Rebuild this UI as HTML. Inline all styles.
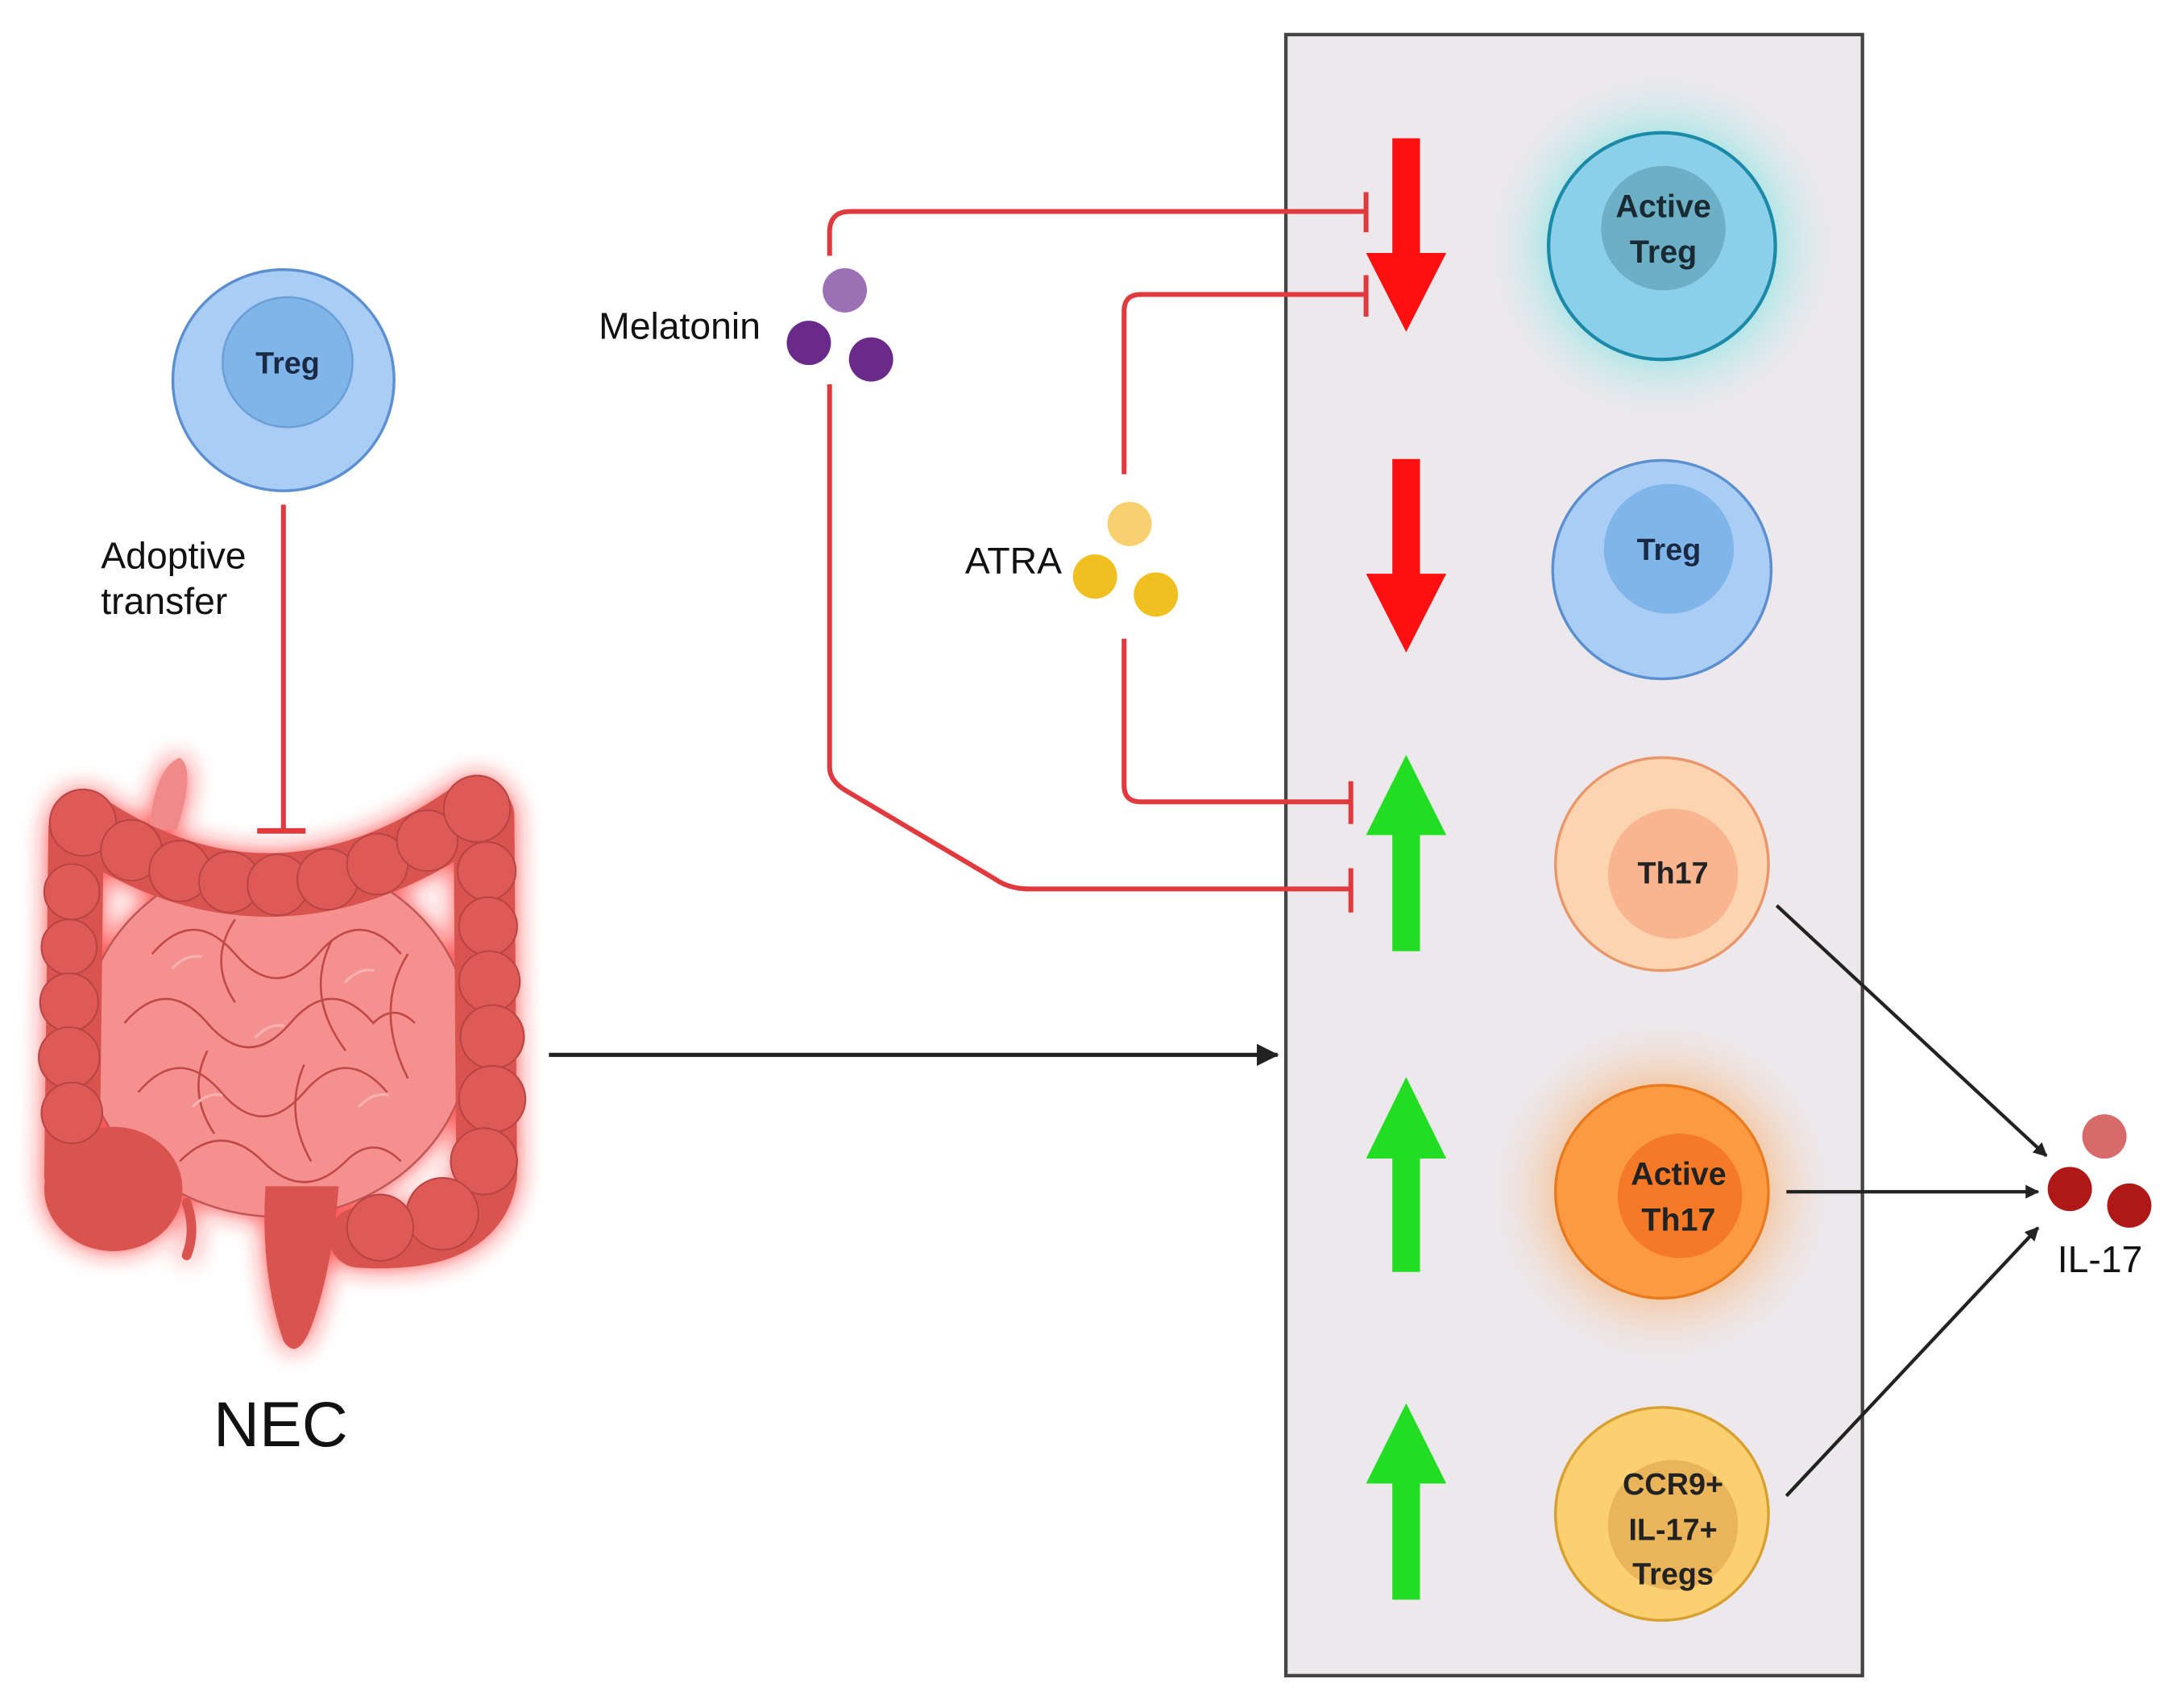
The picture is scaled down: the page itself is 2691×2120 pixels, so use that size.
<!DOCTYPE html>
<html><head><meta charset="utf-8">
<style>
html,body{margin:0;padding:0;background:#fff;}
svg{display:block;}
text{font-family:"Liberation Sans",sans-serif;}
</style></head>
<body>
<svg width="2691" height="2120" viewBox="0 0 1568 1235.4" preserveAspectRatio="none" xmlns="http://www.w3.org/2000/svg">
<defs>
  <filter id="glowR" x="-30%" y="-30%" width="160%" height="160%">
    <feGaussianBlur in="SourceAlpha" stdDeviation="9" result="b"/>
    <feFlood flood-color="#ff2020" flood-opacity="0.8"/>
    <feComposite in2="b" operator="in" result="g"/>
    <feMerge><feMergeNode in="g"/><feMergeNode in="SourceGraphic"/></feMerge>
  </filter>
  <radialGradient id="gC"><stop offset="55%" stop-color="#6fe0e0" stop-opacity="0.7"/><stop offset="100%" stop-color="#c8f0f0" stop-opacity="0"/></radialGradient>
  <radialGradient id="gO"><stop offset="55%" stop-color="#f7b070" stop-opacity="0.7"/><stop offset="100%" stop-color="#f8d8c0" stop-opacity="0"/></radialGradient>
  <marker id="ah" markerWidth="10" markerHeight="10" refX="9" refY="5" orient="auto" markerUnits="userSpaceOnUse"><path d="M0,0 L10,5 L0,10 Z" fill="#222"/></marker>
  <marker id="ah2" markerWidth="16" markerHeight="16" refX="15" refY="8" orient="auto" markerUnits="userSpaceOnUse"><path d="M0,0 L16,8 L0,16 Z" fill="#222"/></marker>
</defs>

<!-- box -->
<rect x="930" y="25" width="417" height="1187" fill="#ece8ec" stroke="#444" stroke-width="2.5"/>

<!-- left Treg -->
<circle cx="205" cy="275" r="80" fill="#a9cdf5" stroke="#5b8fd0" stroke-width="2"/>
<circle cx="208" cy="262" r="47" fill="#80b5ea" stroke="#6a9fd8" stroke-width="1.5"/>
<text x="208" y="270" font-size="22" font-weight="bold" text-anchor="middle" fill="#1a2a44">Treg</text>

<text x="73" y="411" font-size="27" fill="#111">Adoptive</text>
<text x="73" y="444" font-size="27" fill="#111">transfer</text>

<!-- intestine -->
<g filter="url(#glowR)">
  <path d="M108,600 Q112,555 130,548 Q142,556 128,600 Z" fill="#f08a8a"/>
  <ellipse cx="200" cy="750" rx="140" ry="130" fill="#f4908e" stroke="#c05858" stroke-width="1.5"/>
  <path d="M60,595 Q200,690 345,585" fill="none" stroke="#d9534f" stroke-width="46" stroke-linecap="round"/>
  <path d="M55,600 L52,850" fill="none" stroke="#d9534f" stroke-width="40" stroke-linecap="round"/>
  <path d="M350,590 L352,850 Q345,900 260,895" fill="none" stroke="#d9534f" stroke-width="44" stroke-linecap="round"/>
  <ellipse cx="82" cy="860" rx="50" ry="45" fill="#d9534f"/>
  <path d="M192,858 Q188,920 205,970 Q215,985 225,960 Q240,920 245,858 Z" fill="#d9534f"/>
  <path d="M135,870 Q142,890 135,908" fill="none" stroke="#d9534f" stroke-width="7" stroke-linecap="round"/>
</g>
<g fill="#de5a56" stroke="#b84444" stroke-width="1.2">
  <circle cx="60" cy="595" r="24"/><circle cx="95" cy="615" r="22"/><circle cx="130" cy="630" r="22"/>
  <circle cx="166" cy="638" r="22"/><circle cx="201" cy="640" r="22"/><circle cx="237" cy="636" r="22"/>
  <circle cx="273" cy="625" r="22"/><circle cx="309" cy="608" r="22"/><circle cx="345" cy="585" r="24"/>
  <circle cx="52" cy="645" r="20"/><circle cx="50" cy="685" r="20"/><circle cx="50" cy="725" r="21"/>
  <circle cx="50" cy="765" r="22"/><circle cx="52" cy="805" r="22"/>
  <circle cx="352" cy="630" r="21"/><circle cx="353" cy="670" r="21"/><circle cx="354" cy="710" r="22"/>
  <circle cx="356" cy="750" r="23"/><circle cx="356" cy="795" r="24"/><circle cx="350" cy="840" r="24"/>
  <circle cx="320" cy="878" r="26"/><circle cx="275" cy="888" r="24"/>
</g>
<g fill="none" stroke="#c04848" stroke-width="1.5">
  <path d="M110,690 q30,-35 60,0 q30,35 60,0 q30,-35 60,0"/>
  <path d="M90,740 q30,-35 60,0 q30,35 60,0 q30,-35 60,0 q15,-15 30,0"/>
  <path d="M100,790 q30,-35 60,0 q30,35 60,0 q30,-35 60,0"/>
  <path d="M130,840 q30,-30 60,0 q30,30 60,0 q20,-20 40,0"/>
  <path d="M170,665 q-20,30 0,60 M240,680 q-20,40 10,80 M295,690 q-25,40 0,90 M150,760 q-15,30 5,60 M220,770 q-15,35 5,70"/>
</g>
<g fill="none" stroke="#f8b0b0" stroke-width="2" stroke-linecap="round">
  <path d="M125,700 q10,-10 20,-8 M185,750 q10,-10 20,-8 M250,710 q10,-10 20,-8 M140,800 q10,-10 20,-8 M260,800 q10,-10 20,-8"/>
</g>
<line x1="205" y1="365" x2="205" y2="601" stroke="#e0393e" stroke-width="3.5"/>
<line x1="186" y1="601" x2="221" y2="601" stroke="#e0393e" stroke-width="4"/>
<text x="203" y="1046" font-size="46" text-anchor="middle" fill="#111">NEC</text>

<!-- black main arrow -->
<line x1="397" y1="763" x2="924" y2="763" stroke="#222" stroke-width="3" marker-end="url(#ah2)"/>

<!-- Melatonin -->
<text x="433" y="245" font-size="27" fill="#111">Melatonin</text>
<circle cx="611" cy="210" r="16" fill="#9b70b5"/>
<circle cx="585" cy="248" r="16" fill="#6a2a8a"/>
<circle cx="630" cy="260" r="16" fill="#6a2a8a"/>
<g fill="none" stroke="#e0393e" stroke-width="3.5">
  <path d="M600,185 V168 Q600,153 615,153 H988"/>
  <line x1="988" y1="139" x2="988" y2="168"/>
  <path d="M600,278 V555 Q600,565 612,572 L720,636 Q730,643 745,643 H977"/>
  <line x1="977" y1="628" x2="977" y2="660"/>
  <path d="M813,343 V225 Q813,213 825,213 H988"/>
  <line x1="988" y1="199" x2="988" y2="229"/>
  <path d="M813,462 V568 Q813,580 825,580 H977"/>
  <line x1="977" y1="565" x2="977" y2="596"/>
</g>
<text x="698" y="415" font-size="27" fill="#111">ATRA</text>
<circle cx="817" cy="379" r="16" fill="#f8d070"/>
<circle cx="792" cy="417" r="16" fill="#f0c020"/>
<circle cx="836" cy="430" r="16" fill="#f0c020"/>

<!-- red down arrows -->
<polygon points="1007,100 1027,100 1027,183 1046,183 1017,240 988,183 1007,183" fill="#ff1010"/>
<polygon points="1007,332 1027,332 1027,415 1046,415 1017,472 988,415 1007,415" fill="#ff1010"/>
<!-- green up arrows -->
<polygon points="1007,688 1027,688 1027,604 1046,604 1017,546 988,604 1007,604" fill="#22dd22"/>
<polygon points="1007,920 1027,920 1027,838 1046,838 1017,779 988,838 1007,838" fill="#22dd22"/>
<polygon points="1007,1157 1027,1157 1027,1073 1046,1073 1017,1015 988,1073 1007,1073" fill="#22dd22"/>

<!-- right cells -->
<circle cx="1202" cy="178" r="125" fill="url(#gC)"/>
<circle cx="1202" cy="178" r="82" fill="#8ccfe8" stroke="#1a8aa8" stroke-width="2.5"/>
<circle cx="1203" cy="165" r="45" fill="#6db0c6"/>
<text x="1203" y="157" font-size="23" font-weight="bold" text-anchor="middle" fill="#1a2a33">Active</text>
<text x="1203" y="190" font-size="23" font-weight="bold" text-anchor="middle" fill="#1a2a33">Treg</text>

<circle cx="1202" cy="412" r="79" fill="#a9cdf5" stroke="#5b8fd0" stroke-width="2"/>
<circle cx="1207" cy="397" r="47" fill="#80b5ea"/>
<text x="1207" y="405" font-size="22" font-weight="bold" text-anchor="middle" fill="#1a2a44">Treg</text>

<circle cx="1202" cy="625" r="77" fill="#fcd5b0" stroke="#e8966a" stroke-width="2"/>
<circle cx="1210" cy="632" r="47" fill="#f8b590"/>
<text x="1210" y="639" font-size="22" font-weight="bold" text-anchor="middle" fill="#222">Th17</text>

<circle cx="1202" cy="862" r="122" fill="url(#gO)"/>
<circle cx="1202" cy="862" r="77" fill="#fb9a40" stroke="#e87a20" stroke-width="2"/>
<circle cx="1215" cy="865" r="45" fill="#f47a28"/>
<text x="1214" y="857" font-size="23" font-weight="bold" text-anchor="middle" fill="#222">Active</text>
<text x="1214" y="890" font-size="23" font-weight="bold" text-anchor="middle" fill="#222">Th17</text>

<circle cx="1202" cy="1095" r="77" fill="#fbd070" stroke="#d8a030" stroke-width="2"/>
<circle cx="1210" cy="1103" r="47" fill="#e9b45a"/>
<text x="1210" y="1081" font-size="22" font-weight="bold" text-anchor="middle" fill="#222">CCR9+</text>
<text x="1210" y="1114" font-size="22" font-weight="bold" text-anchor="middle" fill="#222">IL-17+</text>
<text x="1210" y="1146" font-size="22" font-weight="bold" text-anchor="middle" fill="#222">Tregs</text>

<!-- IL-17 -->
<circle cx="1522" cy="822" r="16" fill="#d86a6a"/>
<circle cx="1497" cy="860" r="16" fill="#b01818"/>
<circle cx="1540" cy="872" r="16" fill="#b01818"/>
<text x="1488" y="920" font-size="27" fill="#111">IL-17</text>

<g stroke="#222" stroke-width="2.5" fill="none">
  <line x1="1285" y1="655" x2="1480" y2="836" marker-end="url(#ah)"/>
  <line x1="1292" y1="862" x2="1474" y2="862" marker-end="url(#ah)"/>
  <line x1="1292" y1="1082" x2="1474" y2="888" marker-end="url(#ah)"/>
</g>
</svg>
</body></html>
